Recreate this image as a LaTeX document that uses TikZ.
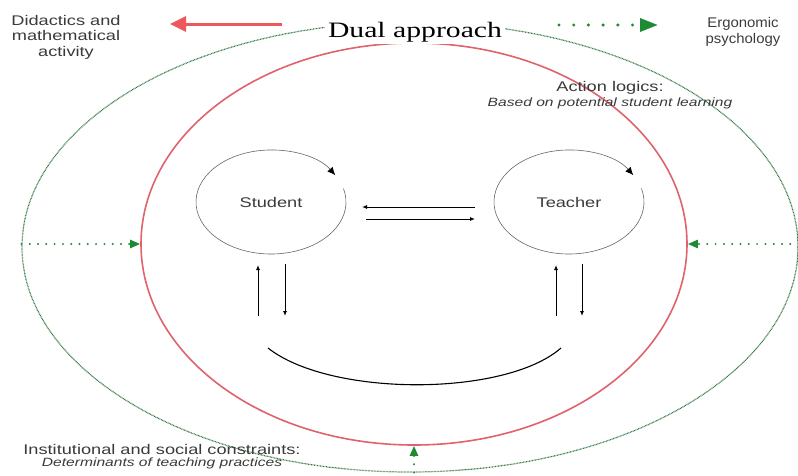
\documentclass[tikz,border=0pt]{standalone}
\usepackage{fontspec}
\setsansfont{Liberation Sans}
\newfontfamily\titlefont{Liberation Serif}
\usetikzlibrary{arrows.meta,positioning,shapes.geometric}
\definecolor{dotgreen}{RGB}{30,138,52}
\definecolor{rimgreen}{RGB}{52,120,66}
\definecolor{ringred}{RGB}{224,98,108}
\definecolor{arrowred}{RGB}{236,88,92}
\definecolor{textgray}{RGB}{58,58,58}
\tikzset{
    info/.style = {
        font = \sffamily\fontsize{14}{15.5}\selectfont,
        text = textgray,
        align = center,
        inner sep = 0pt,
        xscale = 1.3,
        },
    info sub/.style = {
        font = \sffamily\itshape\fontsize{12}{13}\selectfont,
        text = textgray,
        inner sep = 0pt,
        xscale = 1.3,
        },
    title/.style = {
        font = \titlefont\fontsize{22}{24}\selectfont,
        fill = white,
        inner sep = 2pt,
        xscale = 1.35,
        },
    zone/.style = {
        ellipse,
        inner sep = 0pt,
        },
    rim/.style = {
        draw = rimgreen,
        line width = 1.2pt,
        dash pattern = on 0.8pt off 0.7pt,
        },
    red ring/.style = {
        draw = ringred,
        line width = 1.6pt,
        },
    loopring/.style = {
        draw = gray!80!black,
        line width = 0.6pt,
        -{Latex[length=8pt,width=7pt,color=black]},
        },
    link/.style = {
        draw = black,
        line width = 0.9pt,
        -{Latex[length=5pt,width=4pt]},
        },
    smile/.style = {
        draw = black,
        line width = 1.1pt,
        },
    green side/.style = {
        draw = dotgreen,
        line width = 2.2pt,
        line cap = round,
        dash pattern = on 0pt off 8.3pt,
        -{Triangle[length=10pt,width=8pt]},
        },
    green top/.style = {
        draw = dotgreen,
        line width = 3.4pt,
        line cap = round,
        dash pattern = on 0pt off 14.7pt,
        -{Triangle[length=18pt,width=13pt]},
        },
    red top/.style = {
        draw = arrowred,
        line width = 3pt,
        -{Triangle[length=16pt,width=15pt]},
        },
}
\begin{document}
\begin{tikzpicture}[x=1pt,y=-1pt]
    \useasboundingbox (0,0) rectangle (798,475);

    % the two frames
    \node[zone, rim, minimum width=776pt, minimum height=450pt] (outer) at (410,247) {};
    \node[zone, red ring, minimum width=546pt, minimum height=402pt] (inner) at (414,244) {};

    \node[title] (dual) at (415,32) {Dual approach};
    \node[info] (didactics) at (66,37) {Didactics and\\mathematical\\activity};
    \node[info, xscale=0.82] (ergo) at (743,32) {Ergonomic\\psychology};

    \node[info] (logic) at (610,88) {Action logics:};
    \node[info sub, below=3pt of logic] (logic sub) {Based on potential student learning};

    \node[info] (constraints) at (162,449) {Institutional and social constraints:};
    \node[info sub, below=3pt of constraints] (constraints sub) {Determinants of teaching practices};

    \node[info] (student) at (271,202) {Student};
    \node[info] (teacher) at (569,202) {Teacher};

    \draw[loopring] (student.center) ++(-15:75 and 52) arc[start angle=-15, end angle=329, x radius=75, y radius=52];
    \draw[loopring] (teacher.center) ++(-15:75 and 52) arc[start angle=-15, end angle=329, x radius=75, y radius=52];

    \draw[link, shorten <=94pt, shorten >=91pt] ([yshift=-5pt]teacher.center) -- ([yshift=-5pt]student.center);
    \draw[link, shorten <=95pt, shorten >=94pt] ([yshift=-17pt]student.center) -- ([yshift=-17pt]teacher.center);

    \coordinate (student foot) at (271,316);
    \coordinate (teacher foot) at (569,316);
    \draw[link, shorten >=63pt] ([xshift=-13pt]student foot) -- ([xshift=-13pt]student.center);
    \draw[link, shorten <=62pt] ([xshift=14pt]student.center) -- ([xshift=14pt]student foot);
    \draw[link, shorten >=63pt] ([xshift=-13pt]teacher foot) -- ([xshift=-13pt]teacher.center);
    \draw[link, shorten <=62pt] ([xshift=13pt]teacher.center) -- ([xshift=13pt]teacher foot);

    \draw[smile] (268,348) .. controls (330,397) and (505,397) .. (561,348);

    % pressure from outside
    \draw[green side] (outer.west |- inner.west) -- (inner.west);
    \draw[green side] (outer.east |- inner.east) -- (inner.east);
    \draw[green side] (inner.south |- outer.south) -- (inner.south);

    \coordinate (red start) at (282,24);
    \coordinate (to didactics) at (170,24);
    \coordinate (green start) at (559,25);
    \coordinate (to ergo) at (658,25);
    \draw[red top] (red start) -- (to didactics);
    \draw[green top] (green start) -- (to ergo);
\end{tikzpicture}
\end{document}
